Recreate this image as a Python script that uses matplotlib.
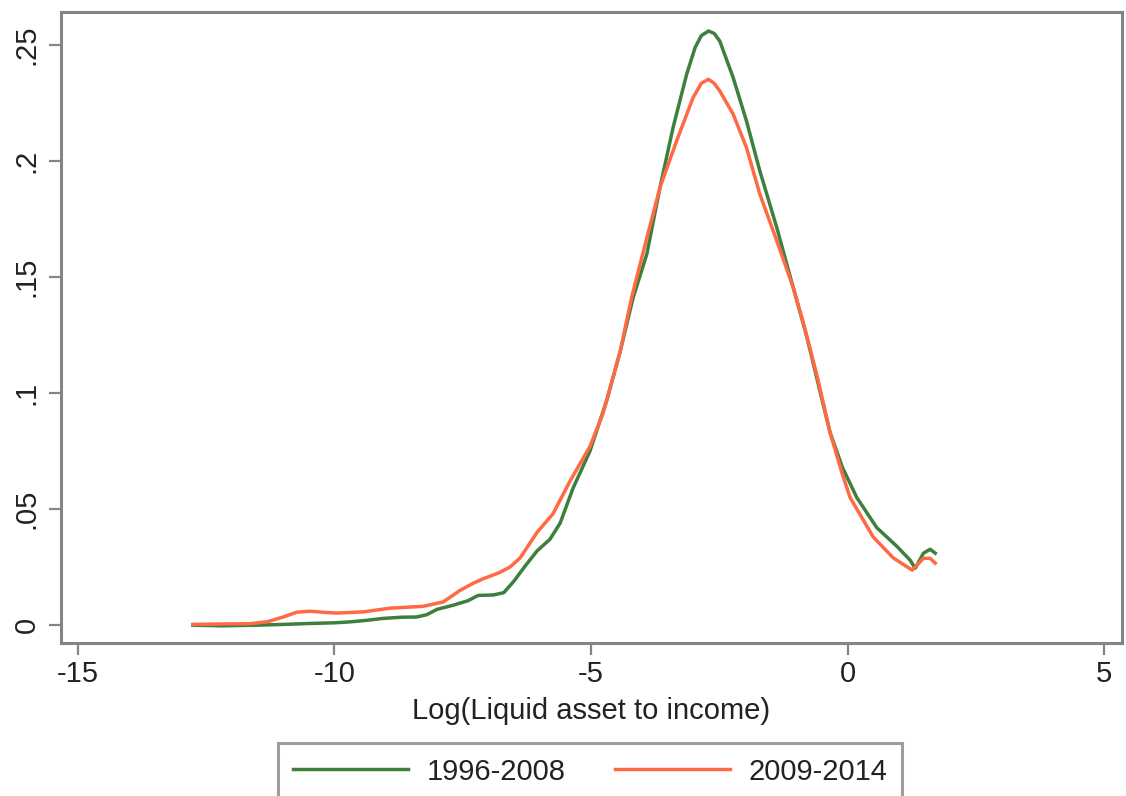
import matplotlib
matplotlib.use("Agg")
import matplotlib.pyplot as plt

plt.rcParams['font.family'] = ['Liberation Sans', 'DejaVu Sans']
plt.rcParams['axes.unicode_minus'] = False

# Density estimates
x_9608 = [-12.76, -12.2, -11.5, -11.0, -10.5, -10.0, -9.7, -9.4, -9.05, -8.7,
          -8.4, -8.2, -8.0, -7.7, -7.4, -7.2, -6.9, -6.7, -6.5, -6.3,
          -6.05, -5.8, -5.6, -5.35, -5.02, -4.69, -4.43, -4.18, -3.91, -3.655,
          -3.40, -3.135, -2.97, -2.85, -2.71, -2.6, -2.49, -2.23, -1.97, -1.71,
          -1.38, -1.06, -0.79, -0.55, -0.34, -0.1, 0.18, 0.57, 0.96, 1.22,
          1.32, 1.48, 1.61, 1.71]
y_9608 = [0.0, -0.0003, 0.0, 0.0003, 0.0007, 0.0010, 0.0014, 0.0020, 0.0029, 0.0034,
          0.0035, 0.0045, 0.0068, 0.0085, 0.0105, 0.0128, 0.0130, 0.0140, 0.0190, 0.0250,
          0.0320, 0.0370, 0.0440, 0.0590, 0.0750, 0.0970, 0.1180, 0.1410, 0.1600, 0.1886,
          0.2144, 0.2374, 0.2489, 0.2540, 0.2560, 0.2550, 0.2517, 0.2360, 0.2173, 0.1958,
          0.1714, 0.1456, 0.1240, 0.1020, 0.0830, 0.0680, 0.0550, 0.0420, 0.0340, 0.0280,
          0.0245, 0.0310, 0.0327, 0.0310]

x_0914 = [-12.76, -12.2, -11.65, -11.3, -11.0, -10.73, -10.48, -10.2, -9.95, -9.44,
          -8.92, -8.6, -8.27, -7.88, -7.55, -7.3, -7.1, -6.8, -6.58, -6.38,
          -6.05, -5.74, -5.41, -5.02, -4.77, -4.43, -4.21, -3.91, -3.655, -3.33,
          -3.01, -2.85, -2.71, -2.6, -2.49, -2.23, -1.97, -1.71, -1.38, -1.06,
          -0.87, -0.6, -0.34, -0.1, 0.05, 0.5, 0.89, 1.26, 1.48, 1.61,
          1.71]
y_0914 = [0.0003, 0.0005, 0.0006, 0.0015, 0.0035, 0.0056, 0.0060, 0.0055, 0.0052, 0.0057,
          0.0073, 0.0077, 0.0081, 0.0100, 0.0150, 0.0180, 0.0200, 0.0225, 0.0250, 0.0290,
          0.0400, 0.0480, 0.0620, 0.0770, 0.0910, 0.1180, 0.1410, 0.1670, 0.1886, 0.2087,
          0.2273, 0.2335, 0.2352, 0.2335, 0.2302, 0.2202, 0.2058, 0.1858, 0.1657, 0.1456,
          0.1310, 0.1080, 0.0830, 0.0650, 0.0550, 0.0380, 0.0290, 0.0237, 0.0288, 0.0288,
          0.0267]

labels = ["1996-2008", "2009-2014"]
x_ticks = [-15, -10, -5, 0, 5]
y_ticks = [0, 0.05, 0.1, 0.15, 0.2, 0.25]
y_ticklabels = ["0", ".05", ".1", ".15", ".2", ".25"]

GREEN = "#3d7f3d"
ORANGE = "#ff6a45"
GRAY = "#858585"
FS = 21

fig = plt.figure(figsize=(11.26, 7.96), dpi=100)
ax = fig.add_axes([61 / 1126, 1 - 643 / 796, (1122 - 61) / 1126, (643 - 12) / 796])

ax.plot(x_9608, y_9608, color=GREEN, lw=2.5, label=labels[0], solid_joinstyle="round")
ax.plot(x_0914, y_0914, color=ORANGE, lw=2.5, label=labels[1], solid_joinstyle="round")

ax.set_xlim(-15.33, 5.35)
ax.set_ylim(-0.0077, 0.2642)
ax.set_xticks(x_ticks)
ax.set_yticks(y_ticks)
ax.set_yticklabels(y_ticklabels, rotation=90, va="center")
ax.tick_params(axis="both", length=8.5, width=1.6, color=GRAY,
               labelsize=FS, labelcolor="#222222")
ax.tick_params(axis="x", pad=4)
ax.tick_params(axis="y", pad=6)
for s in ax.spines.values():
    s.set_color(GRAY)
    s.set_linewidth(2.2)

ax.set_xlabel("Log(Liquid asset to income)", fontsize=FS, color="#222222", labelpad=6)

leg = fig.legend(loc="upper center", bbox_to_anchor=(590 / 1126, 1 - 743 / 796),
                 ncol=2, fontsize=FS, frameon=True, fancybox=False,
                 handlelength=3.95, handletextpad=0.62, columnspacing=1.7,
                 borderpad=0.5, borderaxespad=0)
leg.get_frame().set_edgecolor(GRAY)
leg.get_frame().set_linewidth(2.2)
for t in leg.get_texts():
    t.set_color("#222222")

fig.savefig("out.png", dpi=100)
